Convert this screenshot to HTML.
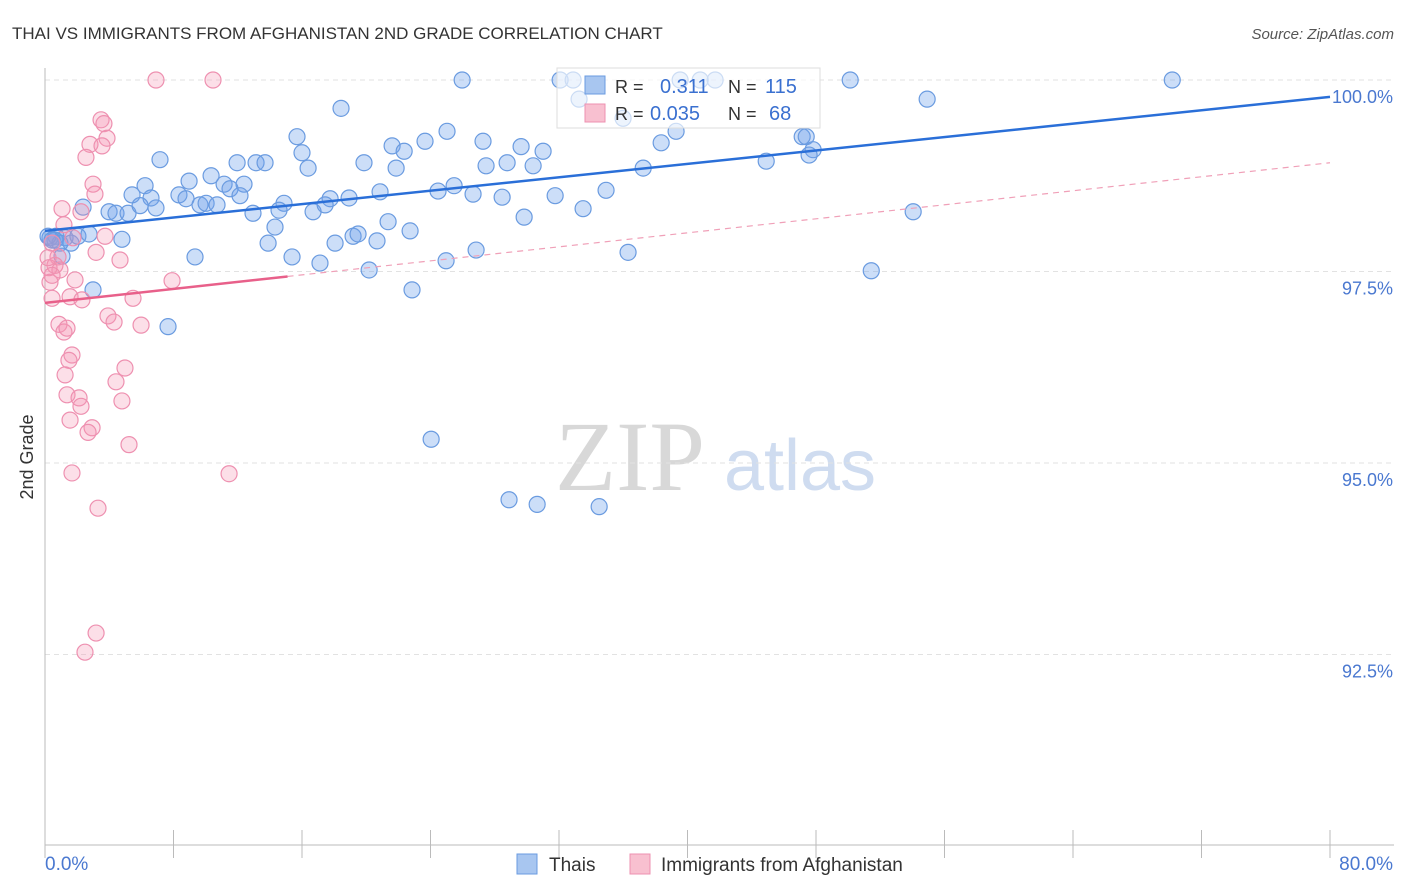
<!DOCTYPE html>
<html><head><meta charset="utf-8">
<style>
body{margin:0;background:#fff;font-family:"Liberation Sans",sans-serif;}
#wrap{position:relative;width:1406px;height:892px;overflow:hidden;}
</style></head>
<body>
<div id="wrap">
<svg id="svg" width="1406" height="892" xmlns="http://www.w3.org/2000/svg">
<text x="12" y="39" font-size="17" fill="#333">THAI VS IMMIGRANTS FROM AFGHANISTAN 2ND GRADE CORRELATION CHART</text>
<text x="1394" y="39" font-size="15" fill="#555" font-style="italic" text-anchor="end">Source: ZipAtlas.com</text>
<text x="33" y="457" font-size="18" fill="#333" transform="rotate(-90 33 457)" text-anchor="middle">2nd Grade</text>
<text x="630" y="490" font-size="100" fill="#d8d8d8" font-family="Liberation Serif,serif" text-anchor="middle">ZIP</text>
<text x="800" y="490" font-size="72" fill="#cfdcf0" text-anchor="middle">atlas</text>
<g id="grid"></g>
<g id="marks"></g>
<g id="lines"></g>
<g>
<rect x="557" y="68" width="263" height="60" fill="#fff" fill-opacity="0.65" stroke="#ddd"/>
<rect x="585" y="76" width="20" height="18" fill="#a8c6f0" stroke="#6a9be0"/>
<rect x="585" y="104" width="20" height="18" fill="#f8c0d0" stroke="#ee90b0"/>
<text x="615" y="93" font-size="18" fill="#333">R = </text><text x="660" y="93" font-size="20" fill="#3a70d0">0.311</text>
<text x="728" y="93" font-size="18" fill="#333">N = </text><text x="765" y="93" font-size="20" fill="#3a70d0">115</text>
<text x="615" y="120" font-size="18" fill="#333">R = </text><text x="650" y="120" font-size="20" fill="#3a70d0">0.035</text>
<text x="728" y="120" font-size="18" fill="#333">N = </text><text x="769" y="120" font-size="20" fill="#3a70d0">68</text>
</g>
<g>
<rect x="517" y="854" width="20" height="20" fill="#a8c6f0" stroke="#6a9be0"/>
<text x="549" y="871" font-size="19" fill="#333">Thais</text>
<rect x="630" y="854" width="20" height="20" fill="#f8c0d0" stroke="#ee90b0"/>
<text x="661" y="871" font-size="19" fill="#333">Immigrants from Afghanistan</text>
</g>
<text x="45" y="870" font-size="19" fill="#4a78d0">0.0%</text>
<text x="1393" y="870" font-size="19" fill="#4a78d0" text-anchor="end">80.0%</text>
</svg>
</div>
<script>
const yTicks=[100,97.5,95,92.5];
const yTickLabels=["100.0%","97.5%","95.0%","92.5%"];
const xTicks=[0,8,16,24,32,40,48,56,64,72,80];
const thaiX=[25.97,32.07,32.88,39.54,40.79,41.72,50.13,70.18,54.92,18.43,33.25,35.99,25.03,39.29,15.69,27.27,21.61,23.66,22.36,29.64,31.01,47.14,47.39,38.36,47.82,47.57,44.90,7.16,16.00,11.96,13.14,13.70,19.86,16.38,21.86,27.46,28.77,30.39,37.24,10.34,8.97,11.15,12.39,11.52,6.23,5.42,8.34,6.60,8.78,12.14,14.88,17.75,18.93,20.86,24.47,25.47,26.65,28.46,31.76,34.93,2.37,3.99,4.42,5.17,5.92,6.91,9.65,10.03,10.71,12.95,14.57,16.69,17.44,21.36,29.83,33.50,54.05,0.68,1.25,1.62,2.05,2.74,4.79,13.89,14.32,18.06,19.18,19.49,20.67,22.73,26.84,24.97,36.30,9.34,15.38,17.12,20.18,51.44,2.99,22.85,7.66,24.04,28.89,30.64,34.50,0.31,0.62,0.93,0.19,1.06,0.44];
const thaiY=[100,100,100,100,100,100,100,100,99.75,99.63,99.75,99.50,99.33,99.33,99.26,99.20,99.14,99.20,99.07,99.13,99.07,99.26,99.26,99.18,99.09,99.02,98.94,98.96,99.05,98.92,98.92,98.92,98.92,98.85,98.85,98.88,98.92,98.88,98.85,98.75,98.68,98.64,98.64,98.58,98.62,98.50,98.50,98.46,98.45,98.49,98.39,98.45,98.46,98.54,98.55,98.62,98.51,98.47,98.49,98.56,98.34,98.28,98.26,98.26,98.36,98.33,98.37,98.39,98.37,98.26,98.30,98.28,98.37,98.15,98.21,98.32,98.28,97.96,97.94,97.87,97.96,97.99,97.92,97.87,98.08,97.87,97.96,97.99,97.90,98.03,97.78,97.64,97.75,97.69,97.69,97.61,97.52,97.51,97.26,97.26,96.78,95.31,94.52,94.46,94.43,97.94,97.91,97.87,97.96,97.70,97.91];
const afgX=[6.91,10.46,3.49,3.67,3.86,2.80,3.55,2.55,2.99,3.11,1.06,2.24,1.18,3.74,1.74,0.44,3.18,0.81,4.67,0.62,0.25,0.93,0.31,1.87,7.91,5.48,1.56,2.30,0.44,3.92,4.30,5.98,0.87,1.18,1.37,1.68,1.49,4.98,1.25,4.42,1.37,2.12,4.79,2.24,1.56,2.93,2.68,5.23,11.46,1.68,3.30,3.18,2.49,0.19,0.44];
const afgY=[100,100,99.48,99.43,99.24,99.16,99.14,98.99,98.64,98.51,98.32,98.28,98.11,97.96,97.94,97.87,97.75,97.69,97.65,97.58,97.55,97.52,97.36,97.39,97.38,97.15,97.17,97.13,97.15,96.92,96.84,96.80,96.81,96.71,96.76,96.41,96.34,96.24,96.15,96.06,95.89,95.85,95.81,95.74,95.56,95.46,95.40,95.24,94.86,94.87,94.41,92.78,92.53,97.68,97.45];
const thaiTrend=[98.03,99.78];
const afgTrend=[97.09,98.92];
const afgSolidEnd=15.1;

const NS="http://www.w3.org/2000/svg";
const sx=v=>45+(v/80)*1285;
const sy=v=>80+(100-v)*76.6;
function mk(tag,attrs,parent){const e=document.createElementNS(NS,tag);for(const k in attrs)e.setAttribute(k,attrs[k]);parent.appendChild(e);return e;}
const grid=document.getElementById('grid'),marks=document.getElementById('marks'),lines=document.getElementById('lines');
yTicks.forEach((t,i)=>{
  const l=mk('line',{x1:45,x2:1394,y1:sy(t),y2:sy(t),stroke:'#e2e2e2','stroke-dasharray':'5,4'},grid);
  
  
  const tx=mk('text',{x:1393,y:sy(t)+23,'font-size':18,fill:'#4a78d0','text-anchor':'end'},grid);
  tx.textContent=yTickLabels[i];
  
  
});
const ax=mk('line',{x1:45,x2:45,y1:68,y2:845,stroke:'#bbb'},grid);


const bx=mk('line',{x1:45,x2:1394,y1:845,y2:845,stroke:'#bbb'},grid);


xTicks.forEach(t=>{
  const l=mk('line',{x1:sx(t),x2:sx(t),y1:830,y2:858,stroke:'#bbb'},grid);
  
  
});
thaiX.forEach((x,i)=>{
  const c=mk('circle',{cx:sx(x),cy:sy(thaiY[i]),r:8,fill:'rgba(110,160,235,0.35)',stroke:'#6a9be0','stroke-width':1.2},marks);
  
  
});
afgX.forEach((x,i)=>{
  const c=mk('circle',{cx:sx(x),cy:sy(afgY[i]),r:8,fill:'rgba(245,150,180,0.3)',stroke:'#ee90b0','stroke-width':1.2},marks);
  
  
});
const tl=mk('line',{x1:sx(0),y1:sy(thaiTrend[0]),x2:sx(80),y2:sy(thaiTrend[1]),stroke:'#2a6fd8','stroke-width':2.5},lines);


const aAt=x=>afgTrend[0]+(afgTrend[1]-afgTrend[0])*x/80;
const al=mk('line',{x1:sx(0),y1:sy(afgTrend[0]),x2:sx(afgSolidEnd),y2:sy(aAt(afgSolidEnd)),stroke:'#e8608a','stroke-width':2.5},lines);


const ad=mk('line',{x1:sx(afgSolidEnd),y1:sy(aAt(afgSolidEnd)),x2:sx(80),y2:sy(afgTrend[1]),stroke:'#f0a0b8','stroke-width':1.2,'stroke-dasharray':'6,5'},lines);


</script>
</body></html>
